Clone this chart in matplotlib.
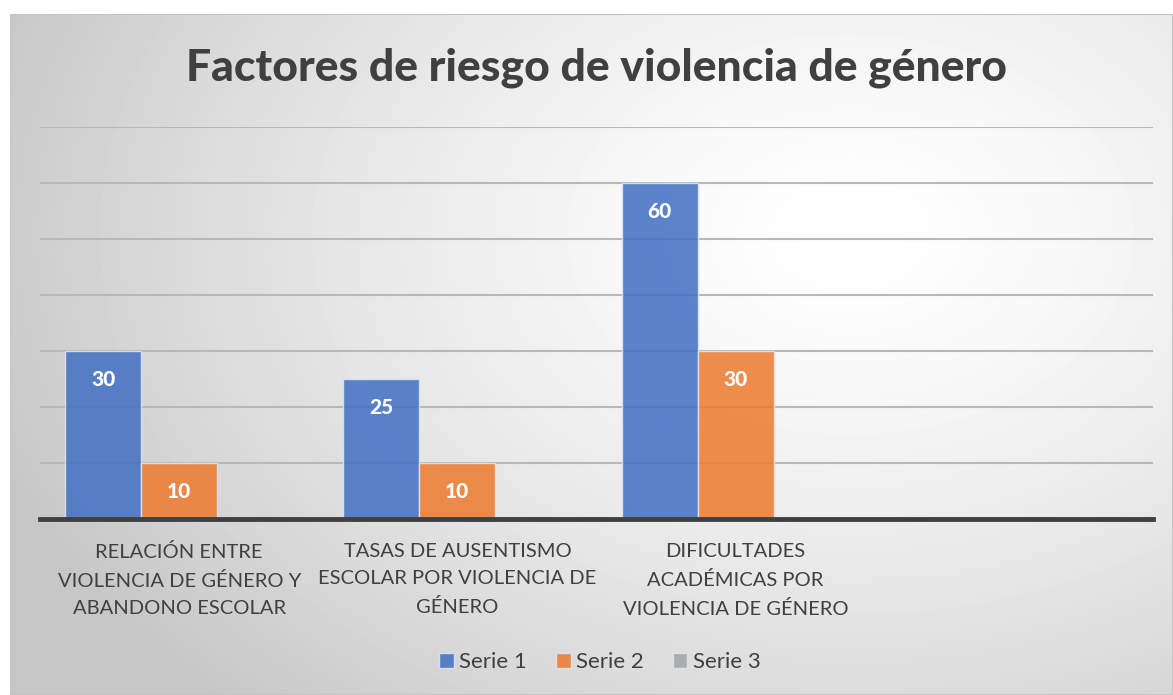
import numpy as np
import matplotlib.pyplot as plt
from matplotlib.patches import Rectangle

plt.rcParams['font.family'] = ['Lato', 'DejaVu Sans']

categories = ['RELACIÓN ENTRE\nVIOLENCIA DE GÉNERO Y\nABANDONO ESCOLAR',
              'TASAS DE AUSENTISMO\nESCOLAR POR VIOLENCIA DE\nGÉNERO',
              'DIFICULTADES\nACADÉMICAS POR\nVIOLENCIA DE GÉNERO',
              '']
serie1 = [30, 25, 60, None]
serie2 = [10, 10, 30, None]
serie3 = [None, None, None, None]
series_names = ['Serie 1', 'Serie 2', 'Serie 3']
colors = ['#4472C4', '#ED7D31', '#A5A5A5']

W, H = 1173, 695
fig = plt.figure(figsize=(W / 100, H / 100), dpi=100)
fig.patch.set_facecolor('white')

# chart panel with radial gradient
bg = fig.add_axes([10 / W, 0, (W - 10) / W, (H - 14) / H])
bg.set_axis_off()
yy, xx = np.mgrid[0:681, 0:1163]
r = np.sqrt(((xx - 840) / 850.0) ** 2 + ((yy - 220) / 600.0) ** 2)
g = np.clip(1.0 - 0.2 * r ** 1.4, 0.78, 1.0)
bg.imshow(g, cmap='gray', vmin=0, vmax=1, aspect='auto', extent=[0, 1, 0, 1])
bg.add_patch(Rectangle((0, 0), 1, 1, transform=bg.transAxes, fill=False,
                       edgecolor='#c4c4c4', lw=1.5))
bg.set_xlim(0, 1)
bg.set_ylim(0, 1)

ax = fig.add_axes([40 / W, 1 - 519 / H, (1153 - 40) / W, (519 - 127) / H])
ax.patch.set_alpha(0)
ax.set_xlim(-0.5, len(categories) - 0.5)
ax.set_ylim(0, 70)
ax.set_yticks(np.arange(0, 71, 10))
ax.yaxis.grid(True, color='#b8b8b8', lw=1.5, zorder=0)
ax.set_axisbelow(True)
for s in ['top', 'right', 'left']:
    ax.spines[s].set_visible(False)
ax.spines['bottom'].set_color('#404040')
ax.spines['bottom'].set_linewidth(3.5)
ax.spines['bottom'].set_zorder(5)
ax.tick_params(axis='y', left=False, labelleft=False)
ax.tick_params(axis='x', bottom=False, pad=14)

bw = 76 / 278.25
x = np.arange(len(categories))
for i, (vals, c, name) in enumerate(zip([serie1, serie2, serie3], colors, series_names)):
    v = np.array([np.nan if a is None else a for a in vals], dtype=float)
    pos = x + (i - 1) * bw
    ax.bar(pos, np.nan_to_num(v), width=bw, color=c, alpha=0.87,
           edgecolor='#dfe6f2', linewidth=1, label=name, zorder=3)
    for xb, val in zip(pos, v):
        if not np.isnan(val):
            ax.text(xb, val - 5.1, f'{val:.0f}', ha='center', va='center',
                    color='white', fontsize=15, fontweight='black', zorder=4)

ax.set_xticks(x)
ax.set_xticklabels(categories, fontsize=14.5, color='#404040', linespacing=1.72)

fig.text(596 / W, 1 - 68 / H, 'Factores de riesgo de violencia de género',
         ha='center', va='center', fontsize=32, fontweight='black', color='#404040')

leg = fig.legend(loc='center', bbox_to_anchor=(600 / W, 1 - 662 / H), ncol=3,
                 frameon=False, fontsize=16, handlelength=0.65, handleheight=0.65,
                 handletextpad=0.25, columnspacing=1.3)
for t in leg.get_texts():
    t.set_color('#404040')

fig.savefig('out.png', dpi=100)
